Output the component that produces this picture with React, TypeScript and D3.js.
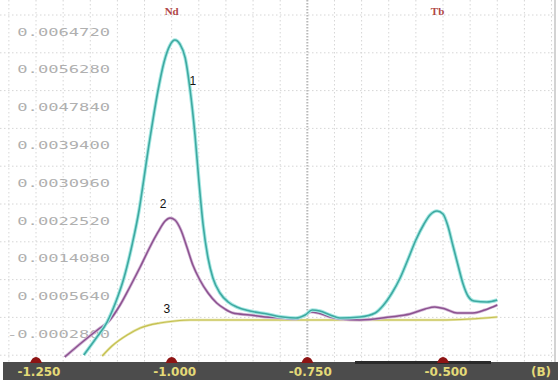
import React from "react";
import * as d3 from "d3";

// ---- data ----
const yTickLabels = ["0.0064720", "0.0056280", "0.0047840", "0.0039400", "0.0030960", "0.0022520", "0.0014080", "0.0005640", "-0.0002800"];
const yTickValues = [0.006472, 0.005628, 0.004784, 0.00394, 0.003096, 0.002252, 0.001408, 0.000564, -0.00028];
const yGridExtra = [-0.001124];
const xTickValues = [-1.25, -1.0, -0.75, -0.5];
const xTickLabels = ["-1.250", "-1.000", "-0.750", "-0.500"];
const xUnitLabel = "(B)";
const xGridValues = [-1.3, -1.25, -1.2, -1.15, -1.1, -1.05, -1.0, -0.95, -0.9, -0.85, -0.8, -0.75, -0.7, -0.65, -0.6, -0.55, -0.5, -0.45, -0.4, -0.35, -0.3];
const elementLabels = [{ name: "Nd", x: -1.0 }, { name: "Tb", x: -0.51 }];

const curve1: [number, number][] = [
  [-1.162, -0.00112], [-1.139, -0.00074], [-1.119, -0.000383], [-1.103, 0.000064], [-1.088, 0.0006],
  [-1.073, 0.001337], [-1.06, 0.002118], [-1.051, 0.002832], [-1.042, 0.003569], [-1.034, 0.004172],
  [-1.025, 0.004797], [-1.014, 0.005423], [-1.003, 0.005802], [-0.994, 0.005914], [-0.985, 0.005824],
  [-0.975, 0.005512], [-0.966, 0.004797], [-0.957, 0.003793], [-0.95, 0.002788], [-0.942, 0.001783],
  [-0.933, 0.001046], [-0.924, 0.0006], [-0.911, 0.000265], [-0.896, 0.000064], [-0.88, -0.000048],
  [-0.856, -0.000137], [-0.824, -0.000204], [-0.795, -0.000271],
  [-0.771, -0.000293], [-0.754, -0.000226], [-0.741, -0.000115], [-0.727, -0.000137], [-0.708, -0.000226],
  [-0.69, -0.000293], [-0.653, -0.000271], [-0.625, -0.000182], [-0.611, -0.000026], [-0.594, 0.000265],
  [-0.579, 0.0006], [-0.565, 0.001002], [-0.55, 0.001448], [-0.535, 0.001805], [-0.524, 0.002006],
  [-0.511, 0.002096], [-0.5, 0.002029], [-0.491, 0.001761], [-0.482, 0.001337], [-0.472, 0.000868],
  [-0.463, 0.000466], [-0.454, 0.000198], [-0.443, 0.000086], [-0.419, 0.000064], [-0.4, 0.000108],
];
const curve2: [number, number][] = [
  [-1.197, -0.001164], [-1.16, -0.000785], [-1.132, -0.000517], [-1.117, -0.000383], [-1.095, -0.000003],
  [-1.077, 0.000399], [-1.058, 0.000845], [-1.04, 0.001292], [-1.025, 0.001627], [-1.012, 0.001872],
  [-1.003, 0.001939], [-0.994, 0.001895], [-0.983, 0.001672], [-0.972, 0.001292], [-0.961, 0.00089],
  [-0.948, 0.000555], [-0.933, 0.000265], [-0.917, 0.000041], [-0.902, -0.000092], [-0.887, -0.000182],
  [-0.856, -0.000226], [-0.828, -0.000271], [-0.795, -0.000293], [-0.771, -0.000316], [-0.754, -0.000226],
  [-0.743, -0.000159], [-0.73, -0.000182], [-0.708, -0.000271], [-0.69, -0.000316], [-0.653, -0.000338],
  [-0.598, -0.000271], [-0.561, -0.000204], [-0.533, -0.000092], [-0.515, -0.000048], [-0.496, -0.000092],
  [-0.474, -0.000182], [-0.445, -0.000182], [-0.423, -0.000115], [-0.4, -0.000003],
];
const curve3: [number, number][] = [
  [-1.128, -0.001142], [-1.11, -0.000919], [-1.082, -0.000673], [-1.058, -0.000517], [-1.022, -0.000405],
  [-0.994, -0.00036], [-0.966, -0.000338], [-0.856, -0.000338], [-0.69, -0.000338], [-0.506, -0.000338],
  [-0.45, -0.000316], [-0.4, -0.000271],
];
const curveLabels = [
  { text: "1", x: -0.961, y: 0.004973 },
  { text: "2", x: -1.016, y: 0.00223 },
  { text: "3", x: -1.009, y: -0.000115 },
];

const W = 558;
const H = 380;

export default function App() {
  const x = d3.scaleLinear().domain([-1.25, -0.5]).range([36, 443]);
  const y = d3.scaleLinear().domain([0.006472, -0.00028]).range([15, 317.4]);
  const line = d3
    .line<[number, number]>()
    .x((d) => x(d[0]))
    .y((d) => y(d[1]))
    .curve(d3.curveMonotoneX);

  const barTop = 362;
  const gridColor = "#d6d6d6";

  return (
    <svg width={W} height={H} style={{ position: "absolute", left: 0, top: 0, display: "block", background: "#fff" }}>
      <defs>
        <clipPath id="plotClip">
          <rect x={0} y={0} width={555} height={barTop} />
        </clipPath>
      </defs>
      {/* horizontal grid */}
      {[...yTickValues, ...yGridExtra].map((v, i) => (
        <line key={"hg" + i} x1={0} x2={555} y1={y(v)} y2={y(v)} stroke={gridColor} strokeDasharray="1.5,2.5" strokeWidth={1} />
      ))}
      {/* vertical grid */}
      {xGridValues.filter((v) => x(v) > 0 && x(v) < 555).map((v, i) => (
        <line key={"vg" + i} x1={x(v)} x2={x(v)} y1={0} y2={barTop} stroke={v === -0.75 ? "#b8b8b8" : gridColor}
          strokeDasharray={v === -0.75 ? "1.5,1.5" : "1.5,2.5"} strokeWidth={v === -0.75 ? 2 : 1} />
      ))}
      {/* right border */}
      <line x1={555} x2={555} y1={0} y2={barTop} stroke="#c4c4c4" strokeWidth={1.5} />

      {/* y labels */}
      {yTickLabels.map((t, i) => (
        <text key={"yl" + i} x={110} y={y(yTickValues[i]) + 17.5} dominantBaseline="middle" textAnchor="end"
          fontFamily="DejaVu Sans Mono" fontSize={10.5} fill="#b0b0b0"
          textLength={t.length * 10.3} lengthAdjust="spacingAndGlyphs">{t}</text>
      ))}

      {/* curves */}
      <g clipPath="url(#plotClip)">
        <path d={line(curve3) || ""} fill="none" stroke="#e6e4a8" strokeWidth={2.6} />
        <path d={line(curve3) || ""} fill="none" stroke="#c4c050" strokeWidth={1.2} />
        <path d={line(curve2) || ""} fill="none" stroke="#d2b6d6" strokeWidth={3} />
        <path d={line(curve2) || ""} fill="none" stroke="#8c5290" strokeWidth={1.5} />
        <path d={line(curve1) || ""} fill="none" stroke="#a6e8e3" strokeWidth={3.6} />
        <path d={line(curve1) || ""} fill="none" stroke="#3ea9a1" strokeWidth={1.6} />
      </g>

      {/* curve number labels */}
      {curveLabels.map((c, i) => (
        <text key={"cl" + i} x={x(c.x)} y={y(c.y)} dominantBaseline="middle" textAnchor="middle"
          fontFamily="Liberation Sans" fontSize={12} fill="#111">{c.text}</text>
      ))}

      {/* element labels */}
      {elementLabels.map((e, i) => (
        <text key={"el" + i} x={x(e.x)} y={12} dominantBaseline="middle" textAnchor="middle"
          fontFamily="Liberation Serif" fontWeight="bold" fontSize={11} fill="#b04646">{e.name}</text>
      ))}

      {/* bottom bar */}
      <rect x={3} y={barTop} width={W - 3} height={H - barTop} fill="#4c4c4c" />
      <rect x={355} y={barTop - 1} width={136} height={3} fill="#2a2a2a" />
      {xTickValues.map((v, i) => (
        <path key={"mk" + i}
          d={`M${x(v) - 6},${barTop + 1} Q${x(v) - 4},${barTop - 5} ${x(v)},${barTop - 5} Q${x(v) + 4},${barTop - 5} ${x(v) + 6},${barTop + 1} Z`}
          fill="#8e1414" />
      ))}
      {xTickLabels.map((t, i) => (
        <text key={"xl" + i} x={x(xTickValues[i]) + 3} y={barTop + 10} dominantBaseline="middle" textAnchor="middle"
          fontFamily="DejaVu Sans" fontWeight="bold" fontSize={12} fill="#e4da78">{t}</text>
      ))}
      <text x={541} y={barTop + 10} dominantBaseline="middle" textAnchor="middle"
        fontFamily="DejaVu Sans" fontWeight="bold" fontSize={12} fill="#e4da78">{xUnitLabel}</text>
    </svg>
  );
}
